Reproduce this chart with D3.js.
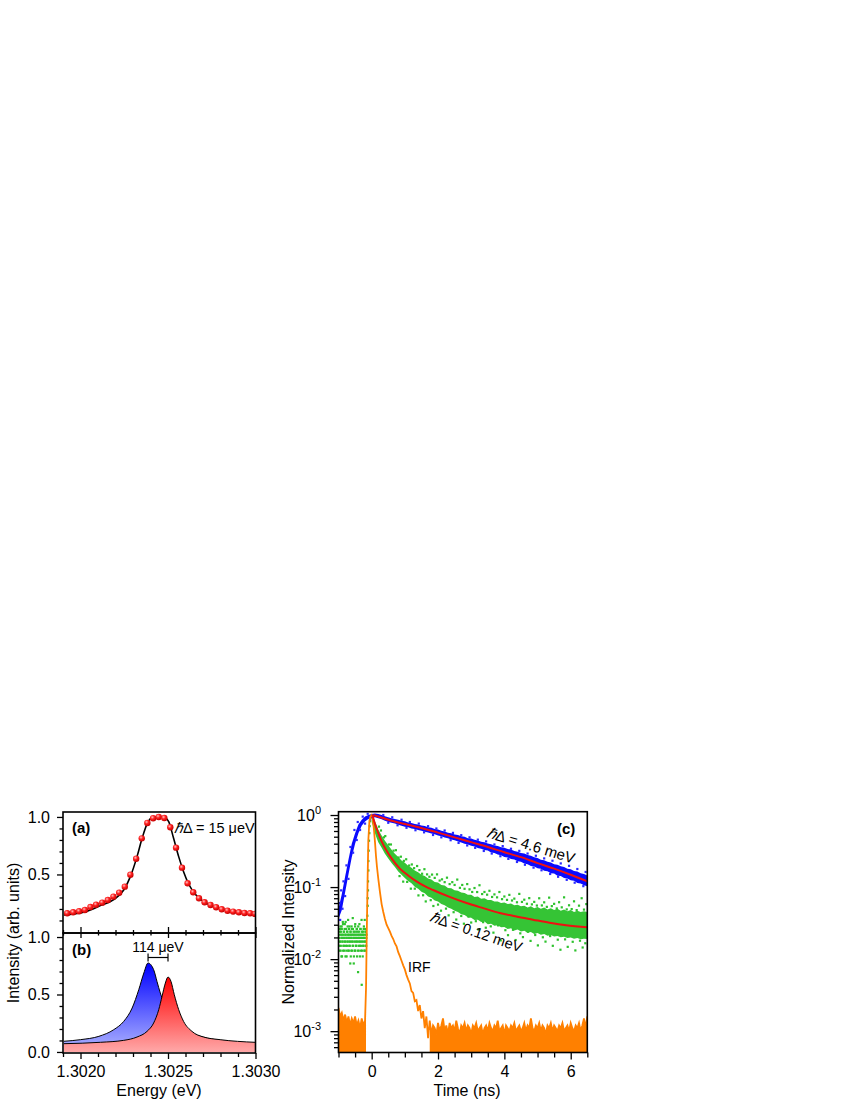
<!DOCTYPE html>
<html><head><meta charset="utf-8">
<script src="https://cdn.jsdelivr.net/npm/d3@7"></script>
<style>body{margin:0;background:#fff}svg{display:block}</style>
</head><body>
<svg id="chart" width="850" height="1100"></svg>
<script>
// ---------------- DATA ----------------
// Panel (a): measured spectrum (dots) and fit (line)
const energyA = [1.301924,1.301958,1.301992,1.302025,1.302057,1.302089,1.302124,1.302156,1.302188,1.302221,1.302253,1.302285,1.302318,1.302350,1.302382,1.302415,1.302447,1.302479,1.302513,1.302546,1.302580,1.302612,1.302644,1.302677,1.302709,1.302743,1.302775,1.302807,1.302840,1.302872,1.302905,1.302937,1.302969,1.302997];
const intensityA = [0.163,0.171,0.18,0.191,0.217,0.237,0.255,0.278,0.307,0.342,0.394,0.498,0.637,0.814,0.948,0.989,1.0,0.991,0.91,0.733,0.559,0.423,0.345,0.293,0.258,0.235,0.215,0.197,0.185,0.177,0.171,0.165,0.163,0.157];
const fitEnergyA = [1.301905,1.302019,1.302114,1.302190,1.302247,1.302285,1.302323,1.302352,1.302380,1.302409,1.302437,1.302475,1.302504,1.302532,1.302561,1.302589,1.302618,1.302656,1.302703,1.302779,1.302874,1.302997];
const fitIntensityA = [0.148,0.171,0.229,0.281,0.365,0.481,0.655,0.814,0.937,0.994,1.0,1.0,0.959,0.814,0.655,0.524,0.417,0.328,0.263,0.211,0.18,0.157];

// Panel (b): the two split lines
const blueLineE = [1.301905,1.302000,1.302105,1.302190,1.302247,1.302295,1.302333,1.302362,1.302386,1.302418,1.302437,1.302456,1.302500,1.302550,1.302600,1.302700,1.302800,1.303000];
const blueLineI = [0.093,0.107,0.136,0.194,0.266,0.382,0.542,0.687,0.774,0.716,0.614,0.513,0.36,0.25,0.19,0.13,0.1,0.07];
const redLineE = [1.301905,1.302114,1.302247,1.302323,1.302380,1.302418,1.302447,1.302466,1.302485,1.302500,1.302517,1.302536,1.302561,1.302589,1.302637,1.302703,1.302798,1.302997];
const redLineI = [0.072,0.084,0.101,0.13,0.179,0.252,0.368,0.484,0.6,0.652,0.614,0.498,0.368,0.266,0.179,0.13,0.107,0.084];
const splitE = [1.302386, 1.3025];

// Panel (c): time-resolved PL, ħΔ = 4.6 meV (blue band)
const blueTime = [-1.0,-0.9,-0.8,-0.7,-0.6,-0.5,-0.4,-0.3,-0.2,-0.1,0.0,0.1,0.2,0.3,0.4,0.5,0.6,0.7,0.8,0.9,1.0,1.1,1.2,1.3,1.4,1.5,1.6,1.7,1.8,1.9,2.0,2.1,2.2,2.3,2.4,2.5,2.6,2.7,2.8,2.9,3.0,3.1,3.2,3.3,3.4,3.5,3.6,3.7,3.8,3.9,4.0,4.1,4.2,4.3,4.4,4.5,4.6,4.7,4.8,4.9,5.0,5.1,5.2,5.3,5.4,5.5,5.6,5.7,5.8,5.9,6.0,6.1,6.2,6.3,6.4,6.5];
const blueLow = [0.036,0.048,0.085,0.15,0.26,0.40,0.56,0.71,0.81,0.88,0.91,0.93,0.90,0.87,0.83,0.80,0.78,0.765,0.735,0.712,0.69,0.676,0.652,0.64,0.618,0.606,0.588,0.571,0.553,0.541,0.518,0.507,0.488,0.476,0.458,0.447,0.428,0.417,0.398,0.391,0.373,0.366,0.348,0.341,0.327,0.321,0.303,0.297,0.283,0.277,0.262,0.258,0.245,0.241,0.229,0.225,0.212,0.208,0.196,0.193,0.182,0.179,0.168,0.166,0.156,0.154,0.144,0.142,0.134,0.131,0.124,0.122,0.114,0.112,0.106,0.103];
const blueHigh = [0.05,0.08,0.14,0.24,0.40,0.56,0.74,0.86,0.95,1.0,1.03,1.05,1.03,1.0,0.965,0.93,0.905,0.882,0.862,0.833,0.818,0.788,0.772,0.748,0.737,0.716,0.703,0.678,0.664,0.642,0.628,0.603,0.592,0.568,0.557,0.537,0.527,0.507,0.498,0.477,0.472,0.452,0.443,0.427,0.418,0.402,0.393,0.377,0.372,0.357,0.352,0.337,0.332,0.316,0.31,0.298,0.292,0.278,0.272,0.259,0.253,0.24,0.235,0.224,0.219,0.208,0.204,0.194,0.19,0.18,0.177,0.167,0.164,0.155,0.152,0.145];
const blueScatter = [[-0.97,0.06],[-0.95,0.035],[-0.92,0.09],[-0.88,0.05],[-0.85,0.12],[-0.8,0.075],[-0.76,0.2],[-0.7,0.13],[-0.64,0.36],[-0.56,0.3],[-0.52,0.62],[-0.45,0.45],[-0.42,0.8],[-0.35,0.62],[-0.27,0.95],[-0.2,0.76],[-0.12,1.04],[-0.05,0.86],
[0.35,1.0],[0.62,0.93],[0.9,0.86],[1.15,0.8],[1.42,0.76],[1.7,0.7],[1.95,0.65],[2.2,0.61],[2.45,0.565],[2.7,0.525],[2.95,0.49],[3.2,0.455],[3.45,0.43],[3.7,0.39],[3.95,0.37],[4.2,0.34],[4.45,0.318],[4.7,0.292],[4.95,0.272],[5.2,0.25],[5.45,0.232],[5.7,0.213],[5.95,0.197],[6.2,0.178],[6.45,0.162],
[0.5,0.78],[0.78,0.72],[1.05,0.665],[1.32,0.615],[1.58,0.575],[1.85,0.528],[2.1,0.49],[2.38,0.447],[2.62,0.41],[2.88,0.378],[3.12,0.35],[3.38,0.317],[3.62,0.292],[3.88,0.268],[4.12,0.246],[4.38,0.223],[4.62,0.204],[4.88,0.186],[5.12,0.171],[5.38,0.152],[5.62,0.139],[5.88,0.126],[6.12,0.115],[6.38,0.103]];
const blueFitTime = [0.05,0.5,1,1.5,2,2.5,3,3.5,4,4.5,5,5.5,6,6.5];
const blueFitValue = [1.0,0.86,0.75,0.66,0.57,0.49,0.42,0.36,0.305,0.26,0.215,0.18,0.148,0.12];

// ħΔ = 0.12 meV (green): background before zero, rise, dense core, scattered points, fit
const greenPreTime = [-0.98,-0.97,-0.96,-0.95,-0.94,-0.93,-0.92,-0.91,-0.90,-0.89,-0.88,-0.87,-0.86,-0.85,-0.84,-0.83,-0.82,-0.81,-0.80,-0.79,-0.78,-0.77,-0.76,-0.75,-0.74,-0.73,-0.72,-0.71,-0.70,-0.69,-0.68,-0.67,-0.66,-0.65,-0.64,-0.63,-0.62,-0.61,-0.60,-0.59,-0.58,-0.57,-0.56,-0.55,-0.54,-0.53,-0.52,-0.51,-0.50,-0.49,-0.48,-0.47,-0.46,-0.45,-0.44,-0.43,-0.42,-0.41,-0.40,-0.39,-0.38,-0.37,-0.36,-0.35,-0.34,-0.33,-0.32,-0.31,-0.30,-0.29,-0.28,-0.27,-0.26,-0.25,-0.24,-0.23,-0.22,-0.21,-0.20,-0.19,-0.18,-0.17,-0.16,
-0.975,-0.965,-0.955,-0.945,-0.935,-0.925,-0.915,-0.905,-0.895,-0.885,-0.875,-0.865,-0.855,-0.845,-0.835,-0.825,-0.815,-0.805,-0.795,-0.785,-0.775,-0.765,-0.755,-0.745,-0.735,-0.725,-0.715,-0.705,-0.695,-0.685,-0.675,-0.665,-0.655,-0.645,-0.635,-0.625,-0.615,-0.605,-0.595,-0.585,-0.575,-0.565,-0.555,-0.545,-0.535,-0.525,-0.515,-0.505,-0.495,-0.485,-0.475,-0.465,-0.455,-0.445,-0.435,-0.425,-0.415,-0.405,-0.395,-0.385,-0.375,-0.365,-0.355,-0.345,-0.335,-0.325,-0.315,-0.305,-0.295,-0.285,-0.275,-0.265,-0.255,-0.245,-0.235,-0.225,-0.215,-0.205,-0.195,-0.185,-0.175,-0.165,-0.155];
const greenPreValue = [0.0197,0.0131,0.024,0.0175,0.0284,0.0153,0.0218,0.0109,0.0262,0.0197,0.0175,0.0328,0.0131,0.0218,0.024,0.0153,0.0197,0.0306,0.0175,0.0109,0.0218,0.0262,0.0131,0.0197,0.0153,0.024,0.0175,0.035,0.0218,0.0131,0.0197,0.0284,0.0153,0.0175,0.024,0.0109,0.0218,0.0197,0.0262,0.0131,0.0175,0.0371,0.0153,0.0218,0.0087,0.0197,0.024,0.0131,0.0284,0.0175,0.0218,0.0153,0.0197,0.0262,0.0109,0.0175,0.024,0.0066,0.0218,0.0131,0.0197,0.0306,0.0153,0.0175,0.0262,0.0218,0.0131,0.0197,0.0044,0.024,0.0175,0.0109,0.0218,0.0153,0.0262,0.0197,0.0131,0.035,0.0175,0.024,0.0153,0.0218,0.0197,
0.0153,0.0218,0.0262,0.0175,0.0131,0.024,0.0197,0.0284,0.0109,0.0218,0.0175,0.0306,0.0153,0.0197,0.024,0.0131,0.0262,0.0175,0.0218,0.0328,0.0153,0.0197,0.0109,0.024,0.0175,0.0284,0.0218,0.0131,0.0197,0.0262,0.0153,0.0175,0.0218,0.0087,0.024,0.0197,0.0131,0.0284,0.0175,0.0218,0.0153,0.0262,0.0197,0.024,0.0109,0.0175,0.0218,0.0131,0.0306,0.0197,0.0153,0.024,0.0175,0.0262,0.0218,0.0131,0.0197,0.0284,0.0153,0.0175,0.024,0.0218,0.0109,0.0197,0.0262,0.0153,0.0175,0.035,0.0218,0.0131,0.0197,0.024,0.0153,0.0175,0.0284,0.0218,0.0197,0.0131,0.0262,0.0175,0.024,0.0153,0.0218];
const greenRise = [[-0.13,0.04],[-0.12,0.055],[-0.12,0.07],[-0.11,0.09],[-0.11,0.12],[-0.1,0.17],[-0.1,0.23],[-0.09,0.32],[-0.08,0.44],[-0.07,0.56],[-0.06,0.7],[-0.05,0.82],[-0.03,0.92],[0,0.97],[0.02,0.99]];
const greenCoreTime = [0.0,0.05,0.1,0.15,0.2,0.3,0.4,0.5,0.6,0.7,0.8,0.9,1.0,1.1,1.2,1.3,1.4,1.5,1.6,1.7,1.8,1.9,2.0,2.1,2.2,2.3,2.4,2.5,2.6,2.7,2.8,2.9,3.0,3.1,3.2,3.3,3.4,3.5,3.6,3.7,3.8,3.9,4.0,4.1,4.2,4.3,4.4,4.5,4.6,4.7,4.8,4.9,5.0,5.1,5.2,5.3,5.4,5.5,5.6,5.7,5.8,5.9,6.0,6.1,6.2,6.3,6.4,6.5];
const greenCoreLow = [0.8,0.68,0.56,0.48,0.42,0.35,0.29,0.25,0.215,0.19,0.165,0.148,0.134,0.121,0.113,0.101,0.095,0.086,0.082,0.074,0.071,0.065,0.063,0.058,0.056,0.052,0.05,0.047,0.045,0.042,0.041,0.038,0.0375,0.035,0.0352,0.0328,0.0332,0.0305,0.031,0.029,0.0296,0.0277,0.028,0.0262,0.0268,0.025,0.0257,0.0241,0.0247,0.0232,0.0238,0.0224,0.023,0.0218,0.0223,0.0211,0.0216,0.0206,0.021,0.0201,0.0205,0.0196,0.02,0.0192,0.0196,0.0189,0.0192,0.019];
const greenCoreHigh = [1.0,0.95,0.82,0.72,0.63,0.52,0.44,0.38,0.33,0.29,0.262,0.233,0.218,0.198,0.186,0.17,0.161,0.148,0.142,0.131,0.127,0.118,0.116,0.107,0.105,0.097,0.096,0.09,0.089,0.084,0.083,0.078,0.078,0.073,0.074,0.069,0.07,0.066,0.066,0.063,0.063,0.06,0.061,0.058,0.059,0.056,0.057,0.054,0.055,0.052,0.054,0.051,0.053,0.05,0.052,0.049,0.051,0.048,0.05,0.047,0.049,0.046,0.048,0.045,0.047,0.045,0.046,0.045];
const greenScatter = [[0.22,0.69],[0.28,0.61],[0.37,0.49],[0.41,0.51],[0.52,0.39],[0.58,0.39],[0.66,0.32],[0.73,0.325],[0.81,0.257],[0.88,0.264],[0.97,0.231],[1.04,0.243],[1.13,0.199],[1.21,0.206],[1.28,0.183],[1.37,0.196],[1.44,0.172],[1.52,0.153],[1.59,0.177],[1.67,0.15],[1.74,0.139],[1.82,0.149],[1.9,0.134],[1.97,0.15],[2.05,0.123],[2.12,0.128],[2.2,0.117],[2.27,0.135],[2.35,0.11],[2.43,0.117],[2.5,0.107],[2.58,0.127],[2.66,0.0975],[2.73,0.107],[2.8,0.0946],[2.88,0.11],[2.95,0.093],[3.03,0.0855],[3.1,0.097],[3.18,0.0853],[3.25,0.106],[3.33,0.08],[3.4,0.0855],[3.48,0.0784],[3.55,0.0888],[3.63,0.0729],[3.7,0.0791],[3.78,0.072],[3.85,0.0854],[3.93,0.068],[4.0,0.074],[4.08,0.0664],[4.15,0.0779],[4.23,0.0651],[4.3,0.0691],[4.38,0.0615],[4.45,0.0804],[4.53,0.0622],[4.6,0.0668],[4.68,0.0586],[4.75,0.0702],[4.83,0.0575],[4.9,0.0623],[4.98,0.0554],[5.05,0.0699],[5.13,0.0556],[5.2,0.0614],[5.28,0.0531],[5.35,0.0713],[5.43,0.0544],[5.5,0.0585],[5.58,0.0505],[5.65,0.0616],[5.73,0.0523],[5.8,0.072],[5.88,0.049],[5.95,0.0559],[6.03,0.0495],[6.1,0.0634],[6.18,0.0479],[6.25,0.0552],[6.33,0.07],[6.4,0.0487],[6.47,0.058],
[0.84,0.142],[0.95,0.119],[1.07,0.118],[1.18,0.095],[1.3,0.095],[1.41,0.0766],[1.55,0.077],[1.63,0.0632],[1.78,0.0658],[1.86,0.0546],[2.0,0.0571],[2.09,0.047],[2.24,0.0502],[2.32,0.0405],[2.47,0.0448],[2.55,0.0354],[2.7,0.0397],[2.78,0.031],[2.92,0.0389],[3.0,0.0322],[3.14,0.0336],[3.22,0.0257],[3.36,0.0326],[3.44,0.0273],[3.59,0.0285],[3.67,0.0233],[3.81,0.0294],[3.89,0.0182],[4.03,0.0252],[4.11,0.0215],[4.26,0.0255],[4.34,0.0184],[4.48,0.0228],[4.56,0.0202],[4.71,0.024],[4.79,0.0179],[4.93,0.0216],[5.01,0.0155],[5.16,0.0201],[5.24,0.0175],[5.38,0.0209],[5.46,0.0153],[5.61,0.0186],[5.69,0.0135],[5.83,0.0188],[5.91,0.0148],[6.06,0.0174],[6.14,0.0132],[6.28,0.018],[6.36,0.0145],[6.44,0.0166]];
const greenFitTime = [0.02,0.1,0.2,0.3,0.45,0.6,0.85,1.1,1.35,1.6,1.85,2.35,2.86,3.36,3.86,4.36,4.86,5.36,5.86,6.5];
const greenFitValue = [1.0,0.75,0.56,0.43,0.32,0.25,0.18,0.145,0.12,0.103,0.091,0.073,0.06,0.051,0.0437,0.039,0.0353,0.032,0.0295,0.0276];

// instrument response function (IRF)
const irfPoints = [[-1.00,0.0021],[-0.95,0.0016],[-0.90,0.0018],[-0.85,0.0014],[-0.80,0.0017],[-0.75,0.0013],[-0.70,0.0016],[-0.65,0.0012],[-0.60,0.0015],[-0.55,0.0013],[-0.50,0.0016],[-0.45,0.0012],[-0.40,0.0014],[-0.35,0.0011],[-0.30,0.0015],[-0.25,0.0012],[-0.20,0.0014],
[-0.17,0.004],[-0.15,0.02],[-0.12,0.15],[-0.10,0.45],[-0.07,0.8],[-0.04,0.95],[0.00,1.0],
[0.03,0.92],[0.07,0.62],[0.10,0.42],[0.13,0.27],[0.16,0.19],[0.20,0.13],[0.25,0.085],[0.30,0.058],[0.35,0.045],[0.40,0.036],[0.45,0.03],[0.50,0.027],[0.55,0.024],[0.60,0.021],[0.65,0.019],[0.70,0.0165],[0.75,0.015],[0.80,0.0125],[0.85,0.011],[0.90,0.0095],[0.95,0.0082],[1.00,0.0072],[1.05,0.006],[1.10,0.0052],[1.15,0.0046],[1.20,0.0036],[1.25,0.0034],[1.30,0.0026],[1.35,0.0027],[1.40,0.0019],[1.45,0.0023],[1.50,0.0015],[1.55,0.0019],[1.60,0.0011],[1.65,0.0016],[1.70,0.0008],[1.75,0.0014],[1.80,0.0009],[1.85,0.0012],
[1.90,0.0011],[1.95,0.0009],[2.00,0.0013],[2.05,0.0010],[2.10,0.0012],[2.15,0.0015],[2.20,0.0010],[2.25,0.0012],[2.30,0.0009],[2.35,0.0013],[2.40,0.0011],[2.45,0.0012],[2.50,0.0010],[2.55,0.0014],[2.60,0.0011],[2.65,0.0009],[2.70,0.0012],[2.75,0.0011],[2.80,0.0013],[2.85,0.0010],[2.90,0.0012],[2.95,0.0011],[3.00,0.0009],[3.05,0.0012],[3.10,0.0011],[3.15,0.0013],[3.20,0.0010],[3.25,0.0011],[3.30,0.0012],[3.35,0.0009],[3.40,0.0011],[3.45,0.0012],[3.50,0.0010],[3.55,0.0013],[3.60,0.0011],[3.65,0.0010],[3.70,0.0012],[3.75,0.0011],[3.80,0.0014],[3.85,0.0010],[3.90,0.0011],[3.95,0.0012],[4.00,0.0009],[4.05,0.0012],[4.10,0.0011],[4.15,0.0010],[4.20,0.0012],[4.25,0.0011],[4.30,0.0013],[4.35,0.0010],[4.40,0.0011],[4.45,0.0012],[4.50,0.0010],[4.55,0.0011],[4.60,0.0013],[4.65,0.0010],[4.70,0.0012],[4.75,0.0011],[4.80,0.0015],[4.85,0.0011],[4.90,0.0010],[4.95,0.0012],[5.00,0.0011],[5.05,0.0013],[5.10,0.0010],[5.15,0.0012],[5.20,0.0011],[5.25,0.0009],[5.30,0.0012],[5.35,0.0011],[5.40,0.0013],[5.45,0.0010],[5.50,0.0012],[5.55,0.0011],[5.60,0.0010],[5.65,0.0012],[5.70,0.0011],[5.75,0.0013],[5.80,0.0010],[5.85,0.0011],[5.90,0.0012],[5.95,0.0010],[6.00,0.0013],[6.05,0.0011],[6.10,0.0010],[6.15,0.0012],[6.20,0.0011],[6.25,0.0013],[6.30,0.0010],[6.35,0.0012],[6.40,0.0015],[6.45,0.0011],[6.50,0.0016]];

// tick values
const yTicksMajorA = [0.5, 1.0];
const yTicksMajorB = [0.0, 0.5, 1.0];
const yTicksMinor = [0.1,0.2,0.3,0.4,0.6,0.7,0.8,0.9];
const xTicksMajorE = [1.3020, 1.3025, 1.3030];
const xTicksMinorE = [1.3019,1.3021,1.3022,1.3023,1.3024,1.3026,1.3027,1.3028,1.3029];
const tTicksMajor = [0, 2, 4, 6];
const tTicksMinor = [-1,-0.5,0.5,1,1.5,2.5,3,3.5,4.5,5,5.5,6.5];
const logDecades = [0, -1, -2, -3];

// ---------------- DRAWING ----------------
const FONT = '"Liberation Sans", Arial, Helvetica, sans-serif';
const svg = d3.select("#chart");
const defs = svg.append("defs");

const xE = d3.scaleLinear().domain([1.3019, 1.3030]).range([63, 255.5]);
const yA = d3.scaleLinear().domain([-0.009, 1.043]).range([933, 812]);
const yB = d3.scaleLinear().domain([-0.009, 1.035]).range([1053, 933]);
const xT = d3.scaleLinear().domain([-1, 6.5]).range([338.5, 587.3]);
const yC = d3.scaleLog().domain([Math.pow(10, -3.296), Math.pow(10, 0.046)]).range([1052.5, 811.7]);

function clip(id, x, y, w, h) {
  defs.append("clipPath").attr("id", id).append("rect").attr("x", x).attr("y", y).attr("width", w).attr("height", h);
}
clip("clipA", 63, 812, 192.5, 121);
clip("clipB", 63, 933, 192.5, 120);
clip("clipC", 338.5, 811.7, 248.8, 240.8);

const rg = defs.append("radialGradient").attr("id", "dotGrad").attr("cx", "38%").attr("cy", "35%").attr("r", "65%");
rg.append("stop").attr("offset", "0%").attr("stop-color", "#ffc0c0");
rg.append("stop").attr("offset", "45%").attr("stop-color", "#ff2222");
rg.append("stop").attr("offset", "100%").attr("stop-color", "#c40000");

function vgrad(id, y1, y2, c1, c2) {
  const g = defs.append("linearGradient").attr("id", id).attr("gradientUnits", "userSpaceOnUse")
    .attr("x1", 0).attr("x2", 0).attr("y1", y1).attr("y2", y2);
  g.append("stop").attr("offset", "0%").attr("stop-color", c1);
  g.append("stop").attr("offset", "100%").attr("stop-color", c2);
}
vgrad("blueGrad", yB(0.77), yB(0), "#0000ff", "#b0b6ff");
vgrad("redGrad", yB(0.65), yB(0), "#ff0000", "#ffa8a8");

const GREEN = "#2ec22e";

function styleAxis(g, fs) {
  g.select(".domain").remove();
  g.selectAll("line").attr("stroke", "#000").attr("stroke-width", 1.3);
  g.selectAll("text").attr("font-size", fs || 16).attr("font-family", FONT).attr("fill", "#000");
}

// ---------- Panel (a) ----------
const gA = svg.append("g").attr("clip-path", "url(#clipA)");
const lineA = d3.line().x(d => xE(d[0])).y(d => yA(d[1])).curve(d3.curveMonotoneX);
gA.append("path").datum(d3.zip(fitEnergyA, fitIntensityA)).attr("d", lineA)
  .attr("fill", "none").attr("stroke", "#000").attr("stroke-width", 1.6);
gA.selectAll("circle").data(d3.zip(energyA, intensityA)).join("circle")
  .attr("cx", d => xE(d[0])).attr("cy", d => yA(d[1])).attr("r", 3.2).attr("fill", "url(#dotGrad)");

// ---------- Panel (b) ----------
const gB = svg.append("g").attr("clip-path", "url(#clipB)");
const areaB = d3.area().x(d => xE(d[0])).y0(yB(0)).y1(d => yB(d[1])).curve(d3.curveMonotoneX);
const lineB = d3.line().x(d => xE(d[0])).y(d => yB(d[1])).curve(d3.curveMonotoneX);
const blueData = d3.zip(blueLineE, blueLineI);
const redData = d3.zip(redLineE, redLineI);
gB.append("path").datum(blueData).attr("d", areaB).attr("fill", "url(#blueGrad)");
gB.append("path").datum(blueData).attr("d", lineB).attr("fill", "none").attr("stroke", "#000").attr("stroke-width", 1);
gB.append("path").datum(redData).attr("d", areaB).attr("fill", "url(#redGrad)");
gB.append("path").datum(redData).attr("d", lineB).attr("fill", "none").attr("stroke", "#000").attr("stroke-width", 1);

const by = 957.5;
svg.append("line").attr("x1", xE(splitE[0])).attr("x2", xE(splitE[1])).attr("y1", by).attr("y2", by).attr("stroke", "#000").attr("stroke-width", 1.2);
splitE.forEach(e => svg.append("line").attr("x1", xE(e)).attr("x2", xE(e)).attr("y1", by - 4).attr("y2", by + 4).attr("stroke", "#000").attr("stroke-width", 1.2));
svg.append("text").attr("x", xE((splitE[0] + splitE[1]) / 2)).attr("y", 951.5).attr("text-anchor", "middle")
  .attr("font-family", FONT).attr("font-size", 14).text("114 \u03BCeV");

// axes a/b
svg.append("g").attr("transform", "translate(63,0)")
  .call(d3.axisLeft(yA).tickValues(yTicksMajorA).tickFormat(d3.format(".1f")).tickSize(6).tickPadding(7)).call(styleAxis);
svg.append("g").attr("transform", "translate(63,0)")
  .call(d3.axisLeft(yA).tickValues(yTicksMinor).tickFormat("").tickSize(3.5)).call(styleAxis);
svg.append("g").attr("transform", "translate(63,0)")
  .call(d3.axisLeft(yB).tickValues(yTicksMajorB).tickFormat(d3.format(".1f")).tickSize(6).tickPadding(7)).call(styleAxis);
svg.append("g").attr("transform", "translate(63,0)")
  .call(d3.axisLeft(yB).tickValues(yTicksMinor).tickFormat("").tickSize(3.5)).call(styleAxis);
svg.append("g").attr("transform", "translate(0,1053)")
  .call(d3.axisBottom(xE).tickValues(xTicksMajorE).tickFormat(d3.format(".4f")).tickSize(6).tickPadding(6.6)).call(styleAxis);
svg.append("g").attr("transform", "translate(0,1053)")
  .call(d3.axisBottom(xE).tickValues(xTicksMinorE).tickFormat("").tickSize(4)).call(styleAxis);
svg.append("g").attr("transform", "translate(0,933)")
  .call(d3.axisTop(xE).tickValues(xTicksMajorE).tickFormat("").tickSize(6)).call(styleAxis);
svg.append("g").attr("transform", "translate(0,933)")
  .call(d3.axisTop(xE).tickValues(xTicksMinorE).tickFormat("").tickSize(3)).call(styleAxis);
svg.append("g").attr("transform", "translate(0,933)")
  .call(d3.axisBottom(xE).tickValues(xTicksMajorE).tickFormat("").tickSize(5)).call(styleAxis);
svg.append("g").attr("transform", "translate(0,933)")
  .call(d3.axisBottom(xE).tickValues(xTicksMinorE).tickFormat("").tickSize(2.5)).call(styleAxis);

svg.append("rect").attr("x", 63).attr("y", 812).attr("width", 192.5).attr("height", 121).attr("fill", "none").attr("stroke", "#000").attr("stroke-width", 1.6);
svg.append("rect").attr("x", 63).attr("y", 933).attr("width", 192.5).attr("height", 120).attr("fill", "none").attr("stroke", "#000").attr("stroke-width", 1.6);

svg.append("text").attr("x", 72).attr("y", 833).attr("font-family", FONT).attr("font-size", 15).attr("font-weight", "bold").text("(a)");
svg.append("text").attr("x", 72).attr("y", 955).attr("font-family", FONT).attr("font-size", 15).attr("font-weight", "bold").text("(b)");
const tA = svg.append("text").attr("x", 174).attr("y", 833).attr("font-family", FONT).attr("font-size", 14.5);
tA.append("tspan").attr("font-style", "italic").text("\u210F");
tA.append("tspan").text("\u0394 = 15 \u03BCeV");
svg.append("text").attr("transform", "translate(18.5,933) rotate(-90)").attr("text-anchor", "middle")
  .attr("font-family", FONT).attr("font-size", 16).text("Intensity (arb. units)");
svg.append("text").attr("x", 159).attr("y", 1095.5).attr("text-anchor", "middle")
  .attr("font-family", FONT).attr("font-size", 16).text("Energy (eV)");

// ---------- Panel (c) ----------
const gC = svg.append("g").attr("clip-path", "url(#clipC)");
const dot = (sel, data, cls, color, s) => sel.selectAll("rect." + cls).data(data).join("rect").attr("class", cls)
  .attr("x", d => xT(d[0]) - s / 2).attr("y", d => yC(d[1]) - s / 2).attr("width", s).attr("height", s).attr("fill", color);
const areaC = d3.area().x(d => xT(d[0])).y0(d => yC(d[1])).y1(d => yC(d[2]));

dot(gC, d3.zip(greenPreTime, greenPreValue), "gpre", GREEN, 2.2);
dot(gC, greenRise, "grise", GREEN, 2.2);
gC.append("path").datum(d3.zip(greenCoreTime, greenCoreLow, greenCoreHigh)).attr("d", areaC).attr("fill", "#35c435");
dot(gC, greenScatter, "gsc", GREEN, 2.2);

gC.append("path").datum(d3.zip(blueTime, blueLow, blueHigh)).attr("d", areaC).attr("fill", "#0a0aff");
dot(gC, blueScatter, "bsc", "#2a2aff", 2.2);

const ORANGE = "#ff8000";
const irfFloor = d => d[0] <= -0.17 || d[0] >= 1.75;
gC.append("path").datum(irfPoints)
  .attr("d", d3.area().defined(irfFloor).x(d => xT(d[0])).y0(1060).y1(d => yC(d[1])))
  .attr("fill", ORANGE);
gC.append("path").datum(irfPoints).attr("d", d3.line().x(d => xT(d[0])).y(d => yC(d[1])))
  .attr("fill", "none").attr("stroke", ORANGE).attr("stroke-width", 1.8);

const lineC = d3.line().x(d => xT(d[0])).y(d => yC(d[1])).curve(d3.curveMonotoneX);
gC.append("path").datum(d3.zip(blueFitTime, blueFitValue)).attr("d", lineC).attr("fill", "none").attr("stroke", "#ee1111").attr("stroke-width", 2);
gC.append("path").datum(d3.zip(greenFitTime, greenFitValue)).attr("d", lineC).attr("fill", "none").attr("stroke", "#ee1111").attr("stroke-width", 2);

// axes c
const minorLog = [];
logDecades.concat([-4]).forEach(dd => { for (let m = 2; m <= 9; m++) { const v = m * Math.pow(10, dd); if (v >= yC.domain()[0] && v <= yC.domain()[1]) minorLog.push(v); } });
svg.append("g").attr("transform", "translate(338.5,0)")
  .call(d3.axisLeft(yC).tickValues(logDecades.map(d => Math.pow(10, d))).tickFormat("").tickSize(8)).call(styleAxis);
svg.append("g").attr("transform", "translate(338.5,0)")
  .call(d3.axisLeft(yC).tickValues(minorLog).tickFormat("").tickSize(4.5)).call(styleAxis);
logDecades.forEach(dd => {
  const t = svg.append("text").attr("x", 321).attr("y", yC(Math.pow(10, dd)) + 6).attr("text-anchor", "end")
    .attr("font-family", FONT).attr("font-size", 16);
  t.append("tspan").text("10");
  t.append("tspan").attr("font-size", 11).attr("dy", -7).text(String(dd));
});
svg.append("g").attr("transform", "translate(0,1052.5)")
  .call(d3.axisBottom(xT).tickValues(tTicksMajor).tickFormat(d3.format("d")).tickSize(7).tickPadding(6.1)).call(styleAxis);
svg.append("g").attr("transform", "translate(0,1052.5)")
  .call(d3.axisBottom(xT).tickValues(tTicksMinor).tickFormat("").tickSize(5)).call(styleAxis);
svg.append("rect").attr("x", 338.5).attr("y", 811.7).attr("width", 248.8).attr("height", 240.8).attr("fill", "none").attr("stroke", "#000").attr("stroke-width", 1.6);

svg.append("text").attr("x", 557).attr("y", 834).attr("font-family", FONT).attr("font-size", 15).attr("font-weight", "bold").text("(c)");
const t1 = svg.append("text").attr("transform", "translate(486,837) rotate(17)").attr("font-family", FONT).attr("font-size", 15);
t1.append("tspan").attr("font-style", "italic").text("\u210F");
t1.append("tspan").text("\u0394 = 4.6 meV");
const t2 = svg.append("text").attr("transform", "translate(429,921) rotate(19)").attr("font-family", FONT).attr("font-size", 14.5);
t2.append("tspan").attr("font-style", "italic").text("\u210F");
t2.append("tspan").text("\u0394 = 0.12 meV");
svg.append("text").attr("x", 408).attr("y", 972).attr("font-family", FONT).attr("font-size", 14).text("IRF");
svg.append("text").attr("transform", "translate(293.5,932) rotate(-90)").attr("text-anchor", "middle")
  .attr("font-family", FONT).attr("font-size", 16).text("Normalized Intensity");
svg.append("text").attr("x", 467).attr("y", 1095.5).attr("text-anchor", "middle")
  .attr("font-family", FONT).attr("font-size", 16).text("Time (ns)");
</script>
</body></html>
